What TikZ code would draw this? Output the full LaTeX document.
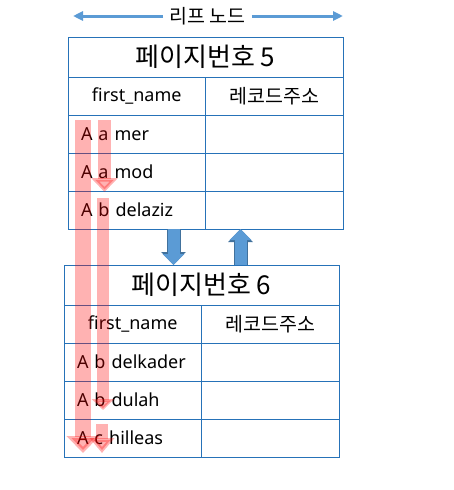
\documentclass[tikz,border=0pt]{standalone}
\usepackage{fontspec}
\setmainfont{Noto Sans}
\newfontfamily\kr{Noto Sans CJK KR}
\usetikzlibrary{positioning, arrows.meta}
\definecolor{cellline}{HTML}{2672B8}
\definecolor{boxblue}{HTML}{5B9BD5}
\definecolor{boxedge}{HTML}{41719C}

\begin{document}
\begin{tikzpicture}[x=1pt, y=-1pt, node distance=0pt,
    cell/.style={draw=cellline, line width=1pt, minimum width=137.5pt, minimum height=38pt,
        inner sep=0pt, outer sep=0pt, font=\fontsize{18}{21}\selectfont},
    entry/.style={cell, inner xsep=13pt, text width=111.5pt, align=left},
    title/.style={cell, minimum width=275pt, minimum height=40pt, font=\fontsize{26}{30}\selectfont},
    hangul/.style={font=\kr\fontsize{19.5}{22}\selectfont},
    pinkarrow/.style={red, opacity=0.3},
    bluearrow/.style={boxblue, line width=12pt, -{Triangle[width=21pt,length=11pt]},
        preaction={draw=boxedge, line width=14pt, -{Triangle[width=24pt,length=13pt]}}}]
    \useasboundingbox (0,0) rectangle (453,490);

    % leaf label
    \node[hangul, inner xsep=6pt] (leaf) at (207.5,16) {리프 노드};
    \coordinate (lend) at (73,16);
    \coordinate (rend) at (343,16);
    \path[boxblue, line width=3pt, -{Triangle[width=9pt,length=10pt]}]
    (leaf) edge (lend)
    (leaf) edge (rend);

    % page 5
    \node[title] (t5) at (205.5,57) {\kr 페이지번호 5};
    \node[cell] (h5a) [below right=of t5.south west] {first\_name};
    \node[cell, hangul] (h5b) [right=of h5a] {레코드주소};
    \node[entry] (r5a1) [below=of h5a] {A a mer};
    \node[cell] (r5b1) [right=of r5a1] {};
    \node[entry] (r5a2) [below=of r5a1] {A a mod};
    \node[cell] (r5b2) [right=of r5a2] {};
    \node[entry] (r5a3) [below=of r5a2] {A b delaziz};
    \node[cell] (r5b3) [right=of r5a3] {};

    % page 6
    \node[title] (t6) at (201.5,285) {\kr 페이지번호 6};
    \node[cell] (h6a) [below right=of t6.south west] {first\_name};
    \node[cell, hangul] (h6b) [right=of h6a] {레코드주소};
    \node[entry] (r6a1) [below=of h6a] {A b delkader};
    \node[cell] (r6b1) [right=of r6a1] {};
    \node[entry] (r6a2) [below=of r6a1] {A b dulah};
    \node[cell] (r6b2) [right=of r6a2] {};
    \node[entry] (r6a3) [below=of r6a2] {A c hilleas};
    \node[cell] (r6b3) [right=of r6a3] {};

    % links between pages
    \coordinate (dn) at ([xshift=-32pt]r5a3.south east);
    \coordinate (up) at ([xshift=35pt]r5b3.south west);
    \draw[bluearrow] (dn) -- (dn |- t6.north);
    \draw[bluearrow] (up |- t6.north) -- (up);

    % scan order
    \coordinate (s1) at (83,120);     \coordinate (e1) at (83,453);
    \coordinate (s2) at (104.5,120);  \coordinate (e2) at (104.5,192);
    \coordinate (s3) at (103,198);    \coordinate (e3) at (103,410);
    \coordinate (s4) at (102,424);    \coordinate (e4) at (102,453);
    \draw[pinkarrow, line width=16pt, -{Triangle[width=32pt,length=17pt]}] (s1) -- (e1);
    \draw[pinkarrow, line width=13pt, -{Triangle[width=26pt,length=14pt]}] (s2) -- (e2);
    \draw[pinkarrow, line width=12pt, -{Triangle[width=22pt,length=11pt]}] (s3) -- (e3);
    \draw[pinkarrow, line width=12pt, -{Triangle[width=24pt,length=15pt]}] (s4) -- (e4);
\end{tikzpicture}
\end{document}
